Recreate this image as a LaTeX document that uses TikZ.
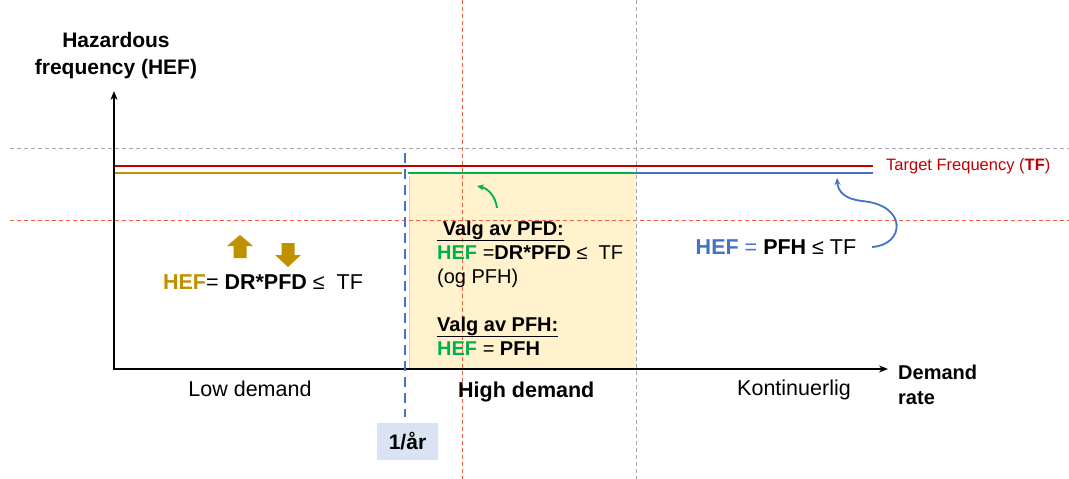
\documentclass[tikz,border=0pt]{standalone}
\usepackage{fontspec}
\setmainfont{Liberation Sans}
\usetikzlibrary{arrows.meta,shadows,calc}
\definecolor{tfred}{HTML}{C00000}
\definecolor{gold}{HTML}{BF9000}
\definecolor{pgreen}{HTML}{00B050}
\definecolor{pblue}{HTML}{4472C4}
\definecolor{boxyellow}{HTML}{FFF2CC}
\definecolor{dashred}{HTML}{F4603A}
\definecolor{dashgray}{HTML}{A6A6A6}
\definecolor{yrbox}{HTML}{DAE3F3}
\newcommand\myfs[2]{\fontsize{#1}{#2}\selectfont}
\begin{document}
\begin{tikzpicture}[x=1pt,y=-1pt,
  axis/.style={line width=2.2pt,-{Stealth[length=9pt,width=7pt]}},
  level/.style={line width=2.6pt},
  guidered/.style={draw=dashred,line width=1pt,dash pattern=on 4pt off 3pt},
  guidegray/.style={draw=dashgray,line width=1pt,dash pattern=on 4pt off 3pt},
  lbl/.style={inner sep=0pt,font=\myfs{21.5}{26}},
  boxtxt/.style={inner sep=0pt,align=left,font=\myfs{20}{24}},
  hdbox/.style={fill=boxyellow,draw=none,inner sep=0pt,minimum width=226pt,minimum height=194pt,
    drop shadow={shadow xshift=-1.5pt,shadow yshift=-2pt,opacity=0.35,fill=gray}},
  curvarrow/.style={line width=1.8pt,-{Stealth[length=7pt,width=6pt]}}
]
\useasboundingbox (0,0) rectangle (1069,479);

% high demand box
\node[hdbox] (hd) at (523,271) {};

% guide lines
\coordinate (gh1a) at (10,148.5); \coordinate (gh1b) at (1069,148.5);
\coordinate (gh2a) at (10,220.5); \coordinate (gh2b) at (1069,220.5);
\coordinate (gv1a) at (462.5,0); \coordinate (gv1b) at (462.5,479);
\coordinate (gv2a) at (636.5,0); \coordinate (gv2b) at (636.5,479);
\draw[guidegray] (gh1a) -- (gh1b);
\draw[guidered] (gh2a) -- (gh2b);
\draw[guidered] (gv1a) -- (gv1b);
\draw[guidegray] (gv2a) -- (gv2b);

% axes
\coordinate (orig) at (114,369);
\coordinate (ytip) at (114,91);
\coordinate (xtip) at (888,369);
\draw[axis] (orig) -- (ytip);
\draw[axis] (112.9,369) -- (xtip);

% level lines
\draw[level,tfred] (115,166) -- (873,166);
\draw[level,gold] (115,173) -- (402,173);
\draw[level,pgreen] (408,173) -- (635,173);
\draw[level,pblue] (635,173) -- (873,173);

% 1/år divider
\coordinate (dva) at (405,153);
\coordinate (dvb) at (405,417);
\draw[pblue,line width=2.5pt,dash pattern=on 10pt off 6pt] (dva) -- (dvb);
\node[fill=yrbox,minimum width=61pt,minimum height=37pt,inner sep=0pt,font=\myfs{21}{24}\bfseries] (yr) at (407.5,441.5) {1/år};

% labels
\node[inner sep=0pt,align=center,font=\myfs{21}{27}\bfseries] (haz) at (116,56) {Hazardous\\frequency (HEF)};
\node[inner sep=0pt,align=left,anchor=west,font=\myfs{20}{25}\bfseries] (dr) at (898,384.5) {Demand\\rate};
\node[lbl] (low) at (250,389) {Low demand};
\node[lbl,anchor=west,font=\myfs{21.5}{26}\bfseries] (high) at (458,392) {High demand};
\node[lbl] (kont) at (794,390) {Kontinuerlig};
\node[inner sep=0pt,anchor=west,text=tfred,font=\myfs{16.5}{20}] (tf) at (886,166) {Target Frequency (\textbf{TF})};

% left formula
\node[lbl] (lowf) at (263,282) {\textcolor{gold}{\textbf{HEF}}= \textbf{DR*PFD} ≤\ \ TF};
\fill[gold] (240,235) -- (253,246) -- (246.5,246) -- (246.5,258) -- (233.5,258) -- (233.5,246) -- (227,246) -- cycle;
\fill[gold] (288,267) -- (301,255) -- (294.5,255) -- (294.5,243) -- (281.5,243) -- (281.5,255) -- (275,255) -- cycle;

% box text
\node[boxtxt,anchor=base west] (hdt) at (437,355) {\textbf{\underline{\ Valg av PFD:}}\\
\textcolor{pgreen}{\textbf{HEF}} =\textbf{DR*PFD} ≤\ \ TF\\
(og PFH)\\
\mbox{}\\
\textbf{\underline{Valg av PFH:}}\\
\textcolor{pgreen}{\textbf{HEF}} = \textbf{PFH}};

% blue formula
\node[lbl] (contf) at (776,247) {\textcolor{pblue}{\textbf{HEF} =} \textbf{PFH} ≤ TF};

% curved arrows
\coordinate (gstart) at (497,208);
\coordinate (gend) at (477,186);
\draw[curvarrow,pgreen] (gstart) to[bend right=35] (gend);
\coordinate (bstart) at (872,247);
\coordinate (bend) at (837,178);
\draw[curvarrow,pblue] (bstart) .. controls (905,245) and (908,205) .. (862,201) .. controls (845,199) and (838,192) .. (bend);
\end{tikzpicture}
\end{document}
